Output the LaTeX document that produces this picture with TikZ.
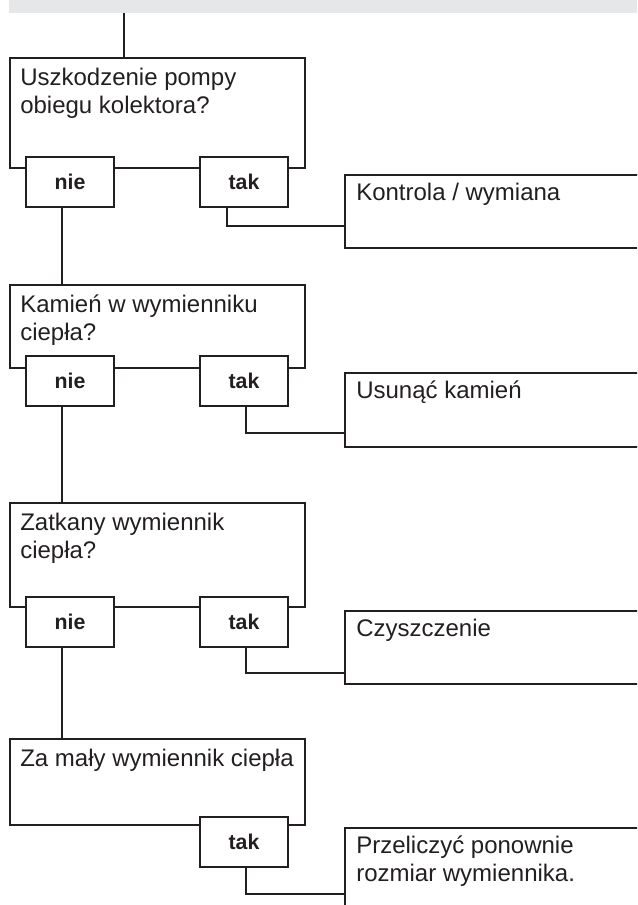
\documentclass[tikz,border=0pt]{standalone}
\usepackage{fontspec}
\setmainfont{Liberation Sans}
\definecolor{linegray}{HTML}{231F20}
\definecolor{bandgray}{HTML}{E6E7E8}
\begin{document}
\begin{tikzpicture}[
    x=0.75pt, y=-0.75pt,
    qbox/.style={
        draw=linegray,
        line width=2pt,
        anchor=north west,
        minimum width=221.25pt,
        inner sep=0pt,
        outer sep=0pt
    },
    ansbox/.style={
        draw=linegray,
        fill=white,
        line width=2pt,
        minimum width=66pt,
        minimum height=37.5pt,
        inner sep=0pt,
        outer sep=0pt,
        text=linegray,
        font=\fontsize{16}{19}\selectfont\bfseries
    },
    fixbox/.style={
        draw=linegray,
        line width=2pt,
        anchor=north west,
        minimum width=228.75pt,
        inner sep=0pt,
        outer sep=0pt
    },
    boxtext/.style={
        anchor=north west,
        align=left,
        inner sep=0pt,
        font=\fontsize{18}{21}\selectfont,
        text=linegray
    },
    conn/.style={draw=linegray, line width=2pt}
]
    \useasboundingbox (0,0) rectangle (637,905);
    \clip (0,0) rectangle (637,905);

    \node[anchor=north west, fill=bandgray, minimum width=471pt,
        minimum height=9.75pt, inner sep=0pt, outer sep=0pt] (band) at (9,0) {};

    % pytania
    \node[qbox, minimum height=82.5pt] (q1) at (10,58) {};
    \node[qbox, minimum height=62.25pt] (q2) at (10,285) {};
    \node[qbox, minimum height=78pt] (q3) at (10,503) {};
    \node[qbox, minimum height=64.5pt] (q4) at (10,739) {};

    \node[boxtext] (q1t) at ([shift={(7.5pt,-7.2pt)}]q1.north west)
        {Uszkodzenie pompy\\obiegu kolektora?};
    \node[boxtext] (q2t) at ([shift={(7.5pt,-7.2pt)}]q2.north west)
        {Kamień w wymienniku\\ciepła?};
    \node[boxtext] (q3t) at ([shift={(7.5pt,-7.2pt)}]q3.north west)
        {Zatkany wymiennik\\ciepła?};
    \node[boxtext] (q4t) at ([shift={(7.5pt,-7.2pt)}]q4.north west)
        {Za mały wymiennik ciepła};

    % odpowiedzi
    \node[ansbox] (nie1) at (70,182) {nie};
    \node[ansbox] (tak1) at (244,182) {tak};
    \node[ansbox] (nie2) at (70,381) {nie};
    \node[ansbox] (tak2) at (244,381) {tak};
    \node[ansbox] (nie3) at (70,622) {nie};
    \node[ansbox] (tak3) at (244,622) {tak};
    \node[ansbox] (tak4) at (244,842) {tak};

    % dzialania
    \node[fixbox, minimum height=54.75pt] (fix1) at (345,175) {};
    \node[fixbox, minimum height=55.5pt] (fix2) at (345,373) {};
    \node[fixbox, minimum height=54.75pt] (fix3) at (345,611) {};
    \node[fixbox, minimum height=75pt] (fix4) at (345,828) {};

    \node[boxtext] (fix1t) at ([shift={(8.25pt,-5.6pt)}]fix1.north west)
        {Kontrola / wymiana};
    \node[boxtext] (fix2t) at ([shift={(8.25pt,-5.6pt)}]fix2.north west)
        {Usunąć kamień};
    \node[boxtext] (fix3t) at ([shift={(8.25pt,-5.6pt)}]fix3.north west)
        {Czyszczenie};
    \node[boxtext] (fix4t) at ([shift={(8.25pt,-5.6pt)}]fix4.north west)
        {Przeliczyć ponownie\\rozmiar wymiennika.};

    % polaczenia
    \draw[conn] ([xshift=85.5pt]q1.north west |- band.south)
        -- ([xshift=85.5pt]q1.north west);
    \draw[conn] ([xshift=-6pt]nie1.south) -- ([xshift=-6pt]nie1.south |- q2.north);
    \draw[conn] ([xshift=-6pt]nie2.south) -- ([xshift=-6pt]nie2.south |- q3.north);
    \draw[conn] ([xshift=-6pt]nie3.south) -- ([xshift=-6pt]nie3.south |- q4.north);

    \draw[conn] ([xshift=-12.75pt]tak1.south) |- ([yshift=16.5pt]fix1.south west);
    \draw[conn] ([xshift=1.5pt]tak2.south) |- ([yshift=10.5pt]fix2.south west);
    \draw[conn] ([xshift=1.5pt]tak3.south) |- ([yshift=8.25pt]fix3.south west);
    \draw[conn] ([xshift=1.5pt]tak4.south) |- ([yshift=-49.5pt]fix4.north west);
\end{tikzpicture}
\end{document}
